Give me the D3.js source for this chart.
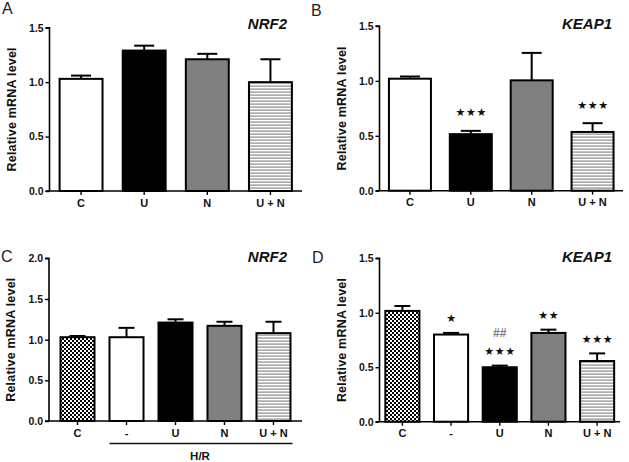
<!DOCTYPE html>
<html><head><meta charset="utf-8">
<script src="https://cdn.jsdelivr.net/npm/d3@7"></script>
<style>body{margin:0;background:#fff}svg{display:block}text{font-family:"Liberation Sans",Arial,sans-serif}</style>
</head><body>
<script>
// ---- data ----
const catsAB = ["C", "U", "N", "U + N"];
const catsCD = ["C", "-", "U", "N", "U + N"];
const nrf2A = [1.03, 1.29, 1.21, 1.00];
const nrf2AErr = [0.03, 0.045, 0.05, 0.21];
const keap1B = [1.02, 0.515, 1.005, 0.535];
const keap1BErr = [0.02, 0.03, 0.25, 0.08];
const nrf2C = [1.03, 1.03, 1.21, 1.17, 1.08];
const nrf2CErr = [0.015, 0.115, 0.04, 0.05, 0.14];
const keap1D = [1.017, 0.80, 0.50, 0.815, 0.557];
const keap1DErr = [0.045, 0.015, 0.015, 0.03, 0.07];
const ticks15 = [0, 0.5, 1.0, 1.5];
const ticks20 = [0, 0.5, 1.0, 1.5, 2.0];
const sigB = [0, 3, 0, 3];      // number of stars
const sigD = [0, 1, 3, 2, 3];
const hashD = ["", "", "##", "", ""];

const W = 629, H = 462;
const svg = d3.select("body").append("svg").attr("width", W).attr("height", H);
const defs = svg.append("defs");
const chk = defs.append("pattern").attr("id","checker").attr("patternUnits","userSpaceOnUse").attr("width",4).attr("height",4);
chk.append("rect").attr("width",4).attr("height",4).attr("fill","#fff");
chk.append("rect").attr("width",2).attr("height",2).attr("fill","#000");
chk.append("rect").attr("x",2).attr("y",2).attr("width",2).attr("height",2).attr("fill","#000");
const str = defs.append("pattern").attr("id","stripes").attr("patternUnits","userSpaceOnUse").attr("width",6).attr("height",3);
str.append("rect").attr("width",6).attr("height",3).attr("fill","#fff");
str.append("rect").attr("y",1.5).attr("width",6).attr("height",1.2).attr("fill","#8a8a8a");

const fillAB = ["#fff", "#000", "#808080", "url(#stripes)"];
const fillCD = ["url(#checker)", "#fff", "#000", "#808080", "url(#stripes)"];

function panel(o) {
  const g = svg.append("g");
  const x = d3.scaleBand().domain(o.cats).range([o.x0, o.x1]).paddingInner(o.pi).paddingOuter(o.po);
  const y = d3.scaleLinear().domain([0, o.ymax]).range([o.yb, o.yt]);
  g.selectAll("rect.bar").data(o.vals).join("rect")
    .attr("x", (d,i) => x(o.cats[i])).attr("width", x.bandwidth())
    .attr("y", d => y(d)).attr("height", d => y(0) - y(d))
    .attr("fill", (d,i) => o.fills[i]).attr("stroke", "#000").attr("stroke-width", 2);
  const cw = o.cap;
  o.vals.forEach((d,i) => {
    const cx = x(o.cats[i]) + x.bandwidth()/2;
    const et = y(d + o.err[i]);
    g.append("line").attr("x1",cx).attr("x2",cx).attr("y1",y(d)).attr("y2",et).attr("stroke","#000").attr("stroke-width",2);
    g.append("line").attr("x1",cx-cw/2).attr("x2",cx+cw/2).attr("y1",et).attr("y2",et).attr("stroke","#000").attr("stroke-width",2);
    if (o.sig && o.sig[i]) {
      const n = o.sig[i], sp = 10.5;
      for (let k = 0; k < n; k++) {
        g.append("text").attr("x", cx + (k - (n-1)/2) * sp).attr("y", et - o.sigGap)
          .attr("text-anchor","middle").attr("dominant-baseline","central")
          .style("font-family","DejaVu Sans").attr("font-size",11).attr("fill","#111").text("\u2605");
      }
    }
    if (o.hash && o.hash[i]) g.append("text").attr("x",cx).attr("y",et-o.sigGap-19).attr("text-anchor","middle")
      .attr("dominant-baseline","central").attr("font-size",12).attr("font-weight","bold").attr("fill","#7a7a7a").text(o.hash[i]);
  });
  const ya = d3.axisLeft(y).tickValues(o.ticks).tickSize(4).tickPadding(2).tickFormat(d3.format(".1f"));
  const yg = g.append("g").attr("transform",`translate(${o.x0},0)`).call(ya);
  yg.select(".domain").attr("stroke-width",1.6).attr("d",`M-4,${o.yt}H0V${o.yb}`);
  yg.selectAll(".tick line").attr("stroke-width",1.4);
  yg.selectAll("text").attr("font-size",10.5).attr("font-weight","bold").attr("fill","#111");
  const xa = d3.axisBottom(x).tickSize(4).tickPadding(4).tickSizeOuter(0);
  const xg = g.append("g").attr("transform",`translate(0,${o.yb})`).call(xa);
  xg.select(".domain").attr("stroke-width",1.6).attr("d",`M${o.x0-4},0H${o.x1}`);
  xg.selectAll(".tick line").attr("stroke-width",1.4);
  xg.selectAll("text").attr("font-size",11).attr("font-weight","bold").attr("fill","#111");
  g.append("text").attr("transform",`translate(${o.x0-34},${(o.yt+o.yb)/2}) rotate(-90)`).attr("text-anchor","middle")
    .attr("font-size",12.5).attr("letter-spacing","0.2px").attr("font-weight","bold").attr("fill","#111").text("Relative mRNA level");
  g.append("text").attr("x",o.tx).attr("y",o.ty).attr("text-anchor","end").attr("font-size",15)
    .attr("font-weight","bold").attr("font-style","italic").attr("fill","#111").text(o.title);
  g.append("text").attr("x",o.lx).attr("y",o.ly).attr("font-size",16).attr("fill","#222").text(o.letter);
  if (o.hr) {
    const a = x(o.cats[1]), b = x(o.cats[o.cats.length-1]) + x.bandwidth();
    g.append("line").attr("x1",a).attr("x2",b+2).attr("y1",443.5).attr("y2",443.5).attr("stroke","#111").attr("stroke-width",1.3);
    g.append("text").attr("x",(a+b)/2).attr("y",460).attr("text-anchor","middle").attr("font-size",11.5)
      .attr("font-weight","bold").attr("fill","#111").text("H/R");
  }
}

panel({cats:catsAB, vals:nrf2A, err:nrf2AErr, fills:fillAB, x0:49.5, x1:302, pi:0.32, po:0.16, ymax:1.5, yb:191, yt:27.7,
  ticks:ticks15, cap:20, title:"NRF2", tx:287, ty:28.5, letter:"A", lx:2, ly:14});
panel({cats:catsAB, vals:keap1B, err:keap1BErr, fills:fillAB, x0:379.5, x1:623, pi:0.31, po:0.155, ymax:1.5, yb:190.7, yt:26,
  ticks:ticks15, cap:20, title:"KEAP1", tx:612, ty:28.5, letter:"B", lx:311, ly:16, sig:sigB, sigGap:18});
panel({cats:catsCD, vals:nrf2C, err:nrf2CErr, fills:fillCD, x0:49, x1:302, pi:0.306, po:0.235, ymax:2.0, yb:421, yt:258.3,
  ticks:ticks20, cap:16, title:"NRF2", tx:287, ty:262, letter:"C", lx:1, ly:262, hr:true});
panel({cats:catsCD, vals:keap1D, err:keap1DErr, fills:fillCD, x0:379.5, x1:620, pi:0.30, po:0.12, ymax:1.5, yb:421.7, yt:258.3,
  ticks:ticks15, cap:16, title:"KEAP1", tx:612, ty:262, letter:"D", lx:312, ly:263, sig:sigD, sigGap:14, hash:hashD});
</script>
</body></html>
